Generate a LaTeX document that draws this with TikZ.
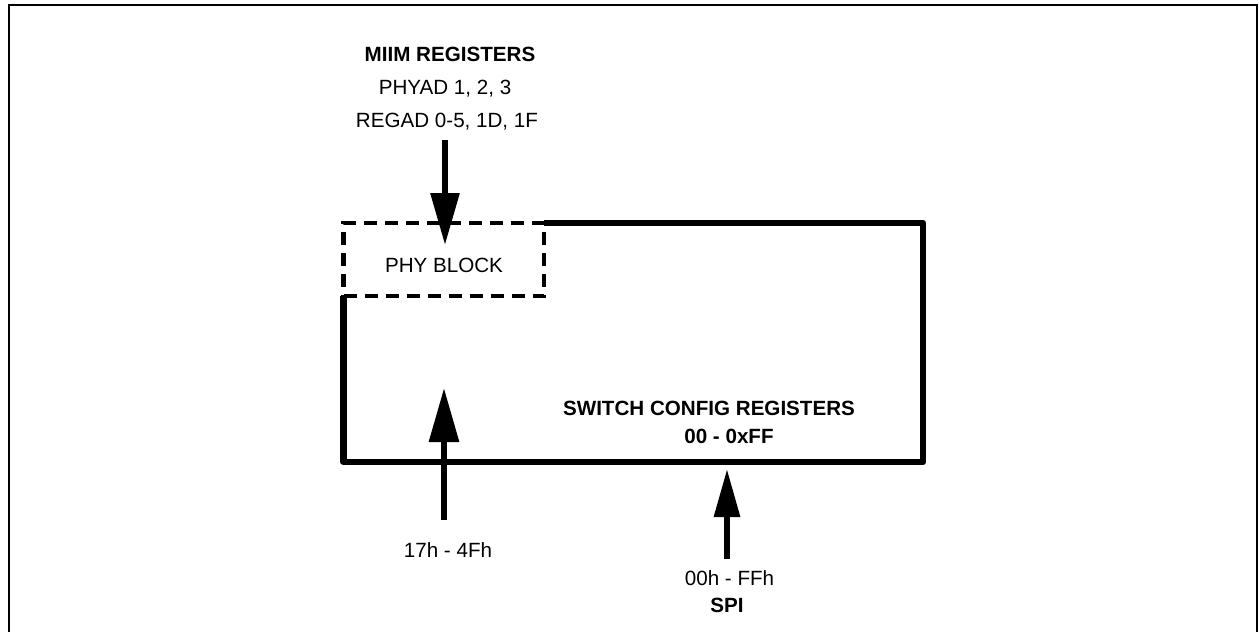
\documentclass[tikz,border=0pt]{standalone}
\usepackage{fontspec}
\setmainfont{Liberation Sans}
\usetikzlibrary{arrows.meta}
\begin{document}
\begin{tikzpicture}[x=1pt,y=-1pt,
  lbl/.style={anchor=base,inner sep=0pt,font=\fontsize{20.6}{24}\selectfont},
  blbl/.style={lbl,font=\fontsize{20.6}{24}\selectfont\bfseries},
  boxline/.style={line width=6.5pt,line join=round},
  dashline/.style={line width=4.5pt,dash pattern=on 13pt off 8pt},
  bigarrow/.style={line width=6pt}]
\useasboundingbox (0,0) rectangle (1259,632);
% outer frame
\draw[line width=2pt] (9,5) rectangle (1257,645);
% main box corners
\coordinate (tl) at (343.5,223);
\coordinate (phyr) at (544,223);
\coordinate (tr) at (923,223);
\coordinate (br) at (923,462);
\coordinate (bl) at (343.5,462);
\coordinate (phyb) at (343.5,296);
\draw[boxline] (phyr) -- (tr) -- (br) -- (bl) -- (phyb);
% PHY block
\node[dashline,draw,rectangle,minimum width=200.5pt,minimum height=73pt,anchor=north west,inner sep=0pt,outer sep=0pt] (phy) at (tl) {};
\node[lbl] (phytxt) at (444,272) {PHY BLOCK};
% texts
\node[blbl] (miim) at (450,61) {MIIM REGISTERS};
\node[lbl] (phyad) at (445,94) {PHYAD 1, 2, 3};
\node[lbl] (regad) at (447,127) {REGAD 0-5, 1D, 1F};
\node[blbl] (swcfg) at (709,415) {SWITCH CONFIG REGISTERS};
\node[blbl] (swrange) at (729,443) {00 - 0xFF};
\node[lbl] (lrange) at (448,557) {17h - 4Fh};
\node[lbl] (spirange) at (729.5,585) {00h - FFh};
\node[blbl] (spi) at (727,612) {SPI};
% arrows
\coordinate (a1s) at (445,140);
\coordinate (a1e) at (445,245);
\draw[bigarrow,-{Triangle[length=52pt,width=28pt]}] (a1s) -- (a1e);
\coordinate (a2s) at (444,520);
\coordinate (a2e) at (444,388);
\draw[bigarrow,-{Triangle[length=54pt,width=29pt]}] (a2s) -- (a2e);
\coordinate (a3s) at (727,559);
\coordinate (a3e) at (727,469);
\draw[bigarrow,-{Triangle[length=48pt,width=25pt]}] (a3s) -- (a3e);
\end{tikzpicture}
\end{document}
